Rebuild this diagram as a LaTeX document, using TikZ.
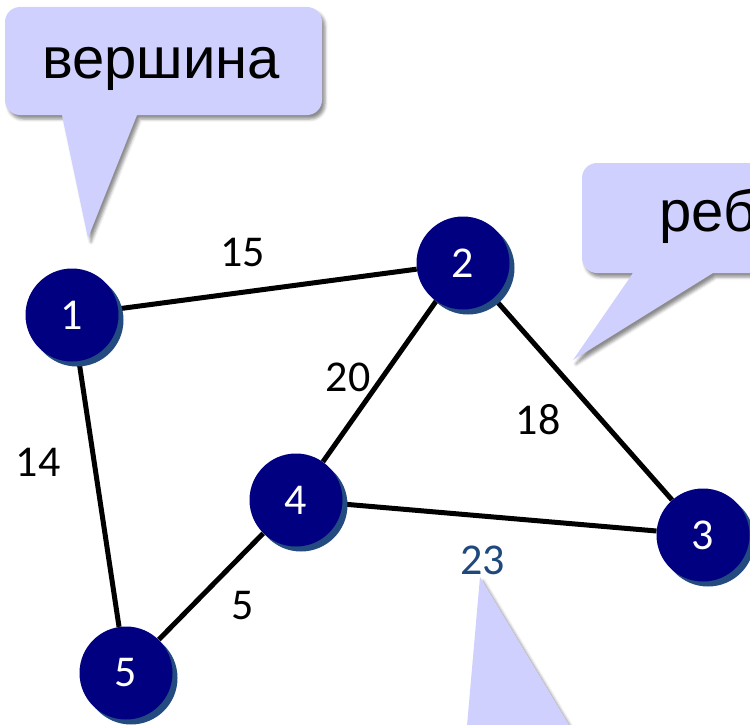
\documentclass[tikz,border=0pt]{standalone}
\usepackage{fontspec}
\setmainfont{Liberation Sans}
\newfontfamily\calib{Carlito}
\usetikzlibrary{shadows,shadows.blur}
\definecolor{calloutfill}{RGB}{208,208,255}
\definecolor{vnavy}{RGB}{0,0,128}
\definecolor{vshadow}{RGB}{35,75,128}
\definecolor{labblue}{RGB}{31,73,125}
\pgfdeclarelayer{bg}
\pgfsetlayers{bg,main}
\begin{document}
\begin{tikzpicture}[x=1pt,y=-1pt,
  vertex/.style={circle, fill=vnavy, minimum size=93pt, inner sep=0pt, text=white,
    font=\calib\fontsize{44}{44}\selectfont,
    drop shadow={shadow xshift=5pt, shadow yshift=-5pt, fill=vshadow, opacity=1}},
  edgelab/.style={inner sep=0pt, font=\calib\fontsize{44}{44}\selectfont},
  edgeline/.style={line width=5pt, black},
  callout/.style={fill=calloutfill, blur shadow={shadow xshift=3pt, shadow yshift=-4pt, shadow blur radius=3pt, shadow opacity=45}},
  callouttext/.style={inner sep=0pt, font=\fontsize{58}{58}\selectfont, anchor=base}
]
\useasboundingbox (0,0) rectangle (750,725);
\begin{scope}
\clip (0,0) rectangle (750,725);
% callout "vershina"
\fill[callout] (200,7) [rounded corners=15pt] -- (5,7) -- (5,115) [sharp corners] -- (62,115) -- (88,238) -- (137,115) [rounded corners=15pt] -- (322,115) -- (322,7) -- cycle;
\node[callouttext] (tv) at (161,78) {вершина};
% callout "rebro"
\fill[callout] (700,163) [rounded corners=15pt] -- (582,163) -- (582,273) [sharp corners] -- (633,273) -- (573,360) -- (713,273) -- (820,273) -- (820,163) -- cycle;
\node[callouttext, anchor=base west] (te) at (659,231) {ребро};
% callout bottom (tail only visible)
\fill[callout] (480,577) -- (590,760) -- (600,760) -- (600,800) -- (400,800) -- (400,760) -- (464,760) -- cycle;
\end{scope}

\node[vertex] (n1) at (72,315) {1};
\node[vertex] (n2) at (463,263) {2};
\node[vertex] (n3) at (703,535) {3};
\node[vertex] (n4) at (296,500) {4};
\node[vertex] (n5) at (126,673) {5};

\begin{pgfonlayer}{bg}
\draw[edgeline] (n1) -- (n2);
\draw[edgeline] (n1) -- (n5);
\draw[edgeline] (n2) -- (n4);
\draw[edgeline] (n2) -- (n3);
\draw[edgeline] (n4) -- (n3);
\draw[edgeline] (n4) -- (n5);
\end{pgfonlayer}

\node[edgelab] (l15) at (242.5,252.5) {15};
\node[edgelab] (l14) at (38,462.5) {14};
\node[edgelab] (l20) at (348,377) {20};
\node[edgelab] (l18) at (538,420) {18};
\node[edgelab] (l5) at (242.5,606) {5};
\node[edgelab, text=labblue] (l23) at (482.5,560) {23};
\end{tikzpicture}
\end{document}
